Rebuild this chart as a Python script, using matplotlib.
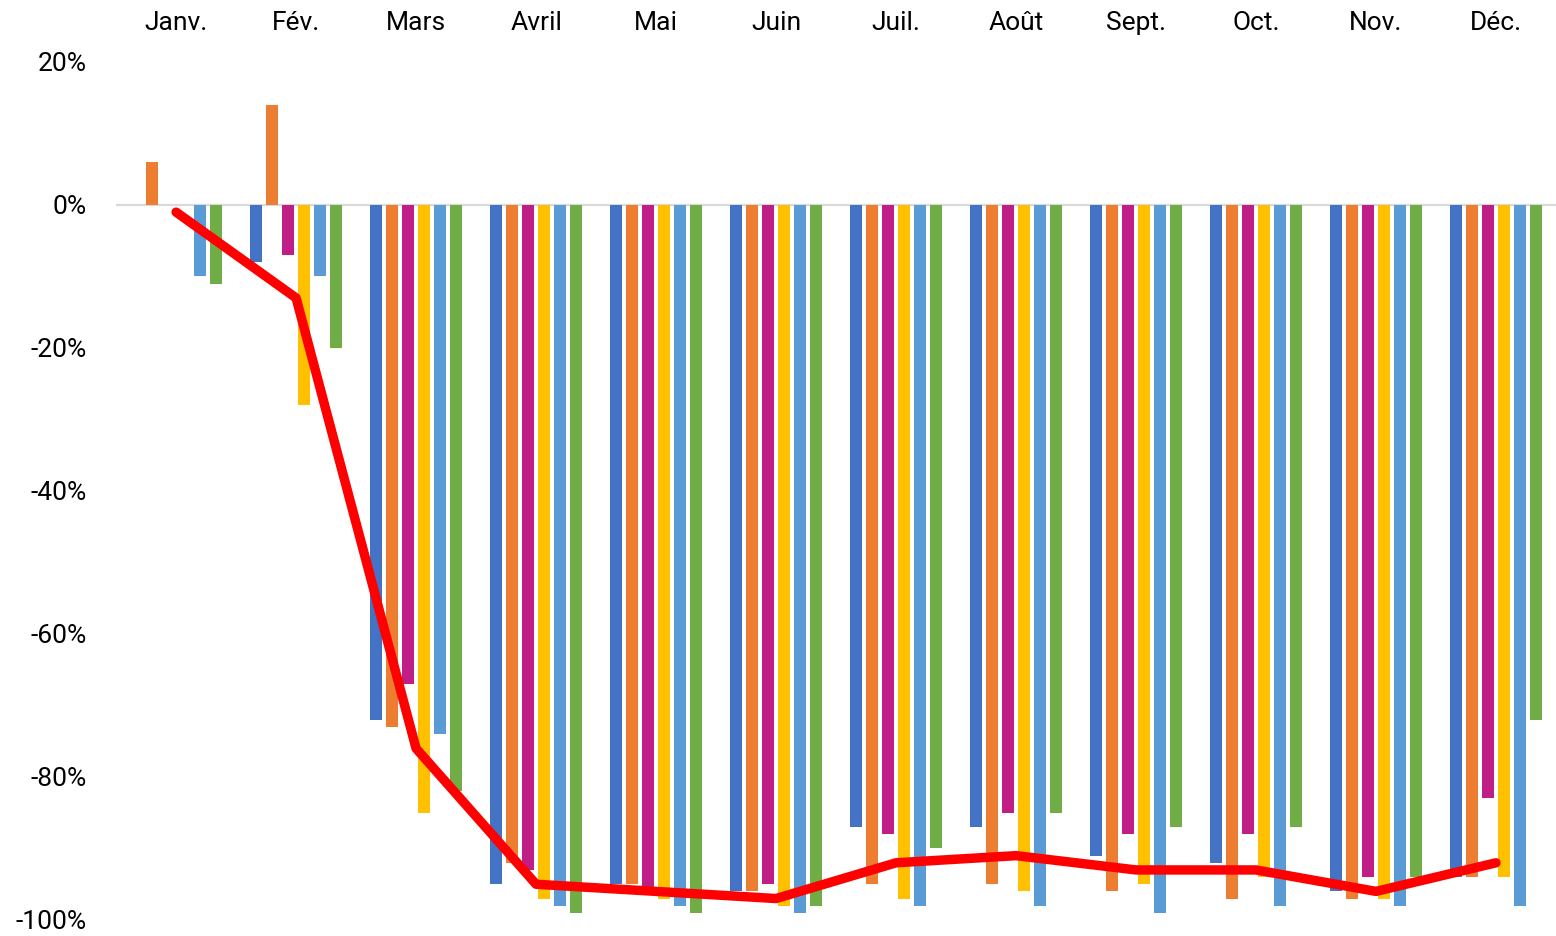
import numpy as np
import matplotlib
matplotlib.use("Agg")
import matplotlib.pyplot as plt

plt.rcParams['font.family'] = ['Roboto', 'DejaVu Sans']

# données (variation en %)
mois = ['Janv.', 'Fév.', 'Mars', 'Avril', 'Mai', 'Juin',
        'Juil.', 'Août', 'Sept.', 'Oct.', 'Nov.', 'Déc.']
serie_1 = [0, -8, -72, -95, -95, -96, -87, -87, -91, -92, -96, -94]
serie_2 = [6, 14, -73, -92, -95, -96, -95, -95, -96, -97, -97, -94]
serie_3 = [0, -7, -67, -93, -96, -95, -88, -85, -88, -88, -94, -83]
serie_4 = [0, -28, -85, -97, -97, -98, -97, -96, -95, -94, -97, -94]
serie_5 = [-10, -10, -74, -98, -98, -99, -98, -98, -99, -98, -98, -98]
serie_6 = [-11, -20, -82, -99, -99, -98, -90, -85, -87, -87, -94, -72]
moyenne = [-1, -13, -76, -95, -96, -97, -92, -91, -93, -93, -96, -92]

series = [serie_1, serie_2, serie_3, serie_4, serie_5, serie_6]
couleurs = ['#4472C4', '#ED7D31', '#BE1E85', '#FFC000', '#5B9BD5', '#70AD47']

fig = plt.figure(figsize=(15.56, 9.36), dpi=100)
ax = fig.add_axes([0.0746, 0.0171, 0.9254, 0.9167])

x = np.arange(len(mois))
pas = 0.133
for i, (vals, c) in enumerate(zip(series, couleurs)):
    ax.bar(x + (i - 2.5) * pas, vals, width=0.1, color=c, zorder=2)

ax.axhline(0, color='#D9D9D9', lw=1.6, zorder=1)
ax.plot(x, moyenne, color='#FF0000', lw=6.8, solid_capstyle='round', zorder=3)

ax.set_xlim(-0.5, 11.5)
ax.set_ylim(-100, 20)

ax.xaxis.tick_top()
ax.set_xticks(x)
ax.set_xticklabels(mois)
yt = [20, 0, -20, -40, -60, -80, -100]
ax.set_yticks(yt)
ax.set_yticklabels([f'{v}%' for v in yt])
ax.tick_params(axis='x', length=0, pad=19.5, labelsize=19, colors='black')
ax.tick_params(axis='y', length=0, pad=21, labelsize=19, colors='black')

for s in ax.spines.values():
    s.set_visible(False)

fig.savefig('out.png', dpi=100)
